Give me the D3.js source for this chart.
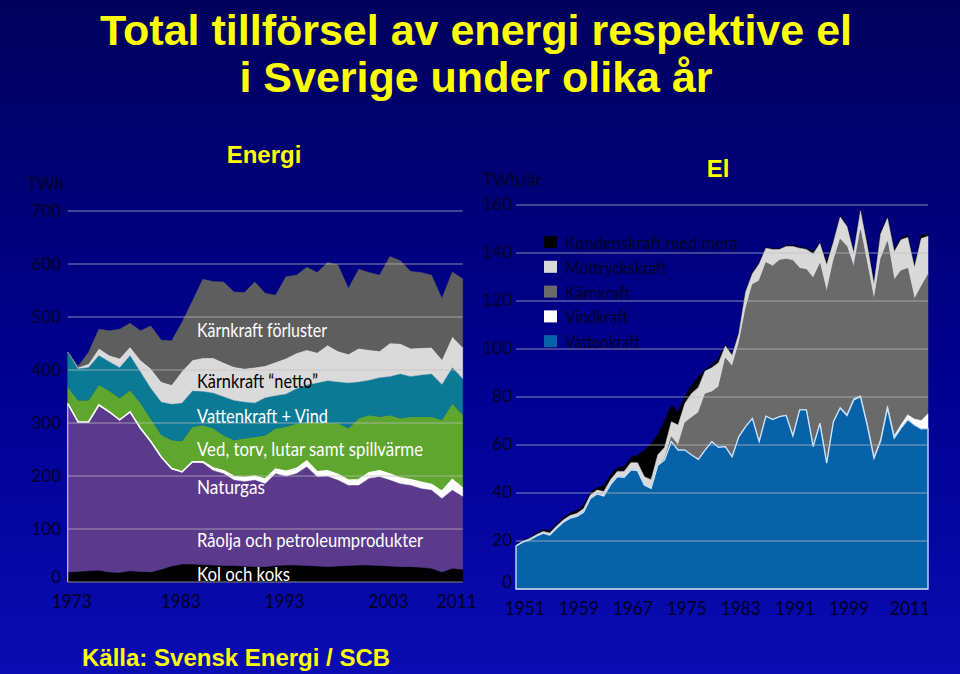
<!DOCTYPE html>
<html><head><meta charset="utf-8">
<script src="https://cdn.jsdelivr.net/npm/d3@7"></script>
<style>
html,body{margin:0;padding:0;background:#00007a;}
svg{display:block;}
</style></head><body>
<svg id="c" width="960" height="674"></svg>
<script>
// ---------------- DATA: Energi (TWh), 1973-2011 ----------------
const energiYears = [1973,1974,1975,1976,1977,1978,1979,1980,1981,1982,1983,1984,1985,1986,1987,1988,1989,1990,1991,1992,1993,1994,1995,1996,1997,1998,1999,2000,2001,2002,2003,2004,2005,2006,2007,2008,2009,2010,2011];
const kolKoks   = [19,20,21,22,19,18,21,20,19,24,30,34,34,33,32,31,31,30,29,29,31,32,32,31,30,29,30,31,32,32,31,30,29,29,28,26,19,26,24];
const raolja    = [318,282,281,312,302,288,300,270,246,212,184,174,192,192,179,174,162,160,164,157,174,168,173,187,169,171,163,152,151,164,168,163,157,154,149,148,139,148,138];
const naturgas  = [0,0,0,0,0,0,0,0,0,0,0,0,1,2,4,5,6,7,7,8,8,9,9,10,9,10,10,9,10,10,11,11,10,10,11,10,13,19,15];
const vedTorv   = [31,41,41,38,40,41,41,48,43,42,54,58,66,69,75,67,69,74,74,83,77,84,85,74,94,90,97,98,116,109,102,111,113,119,124,128,135,144,139];
const vattenVind= [66,60,62,56,55,58,66,59,58,62,68,72,68,64,67,73,75,69,64,71,62,62,66,70,74,80,78,86,69,66,74,73,84,76,79,81,67,68,68];
const karnNetto = [0,2,7,13,12,17,16,22,37,38,36,60,58,63,66,64,63,63,67,60,63,67,67,66,57,67,58,54,63,57,50,63,57,53,51,50,47,58,59];
const karnForl  = [0,2,21,36,46,55,44,55,80,78,83,92,111,148,144,152,141,143,161,137,126,154,147,156,151,156,162,124,149,146,143,163,156,145,142,136,115,122,129];
const energiTicks = [0,100,200,300,400,500,600,700];
const energiXLabels = [1973,1983,1993,2003,2011];

// ---------------- DATA: El (TWh/år), 1950-2011 ----------------
const elYears = [1950,1951,1952,1953,1954,1955,1956,1957,1958,1959,1960,1961,1962,1963,1964,1965,1966,1967,1968,1969,1970,1971,1972,1973,1974,1975,1976,1977,1978,1979,1980,1981,1982,1983,1984,1985,1986,1987,1988,1989,1990,1991,1992,1993,1994,1995,1996,1997,1998,1999,2000,2001,2002,2003,2004,2005,2006,2007,2008,2009,2010,2011];
const vattenkraft = [17.9,19.5,20.5,22.0,23.3,22.5,25.3,27.8,29.5,30.3,32.0,37.7,39.6,38.8,43.5,46.8,46.5,49.6,49.3,43.3,41.9,51.6,53.8,61.4,57.9,57.9,55.8,54.0,57.9,61.4,59.0,59.3,55.1,63.5,67.7,71.1,61.4,72.0,70.6,71.8,72.3,63.8,74.6,74.6,59.3,69.0,52.4,69.7,75.4,72.3,78.8,80.1,68.3,54.5,61.7,75.4,62.9,67.0,70.6,68.3,66.7,66.9];
const vindkraft   = [0,0,0,0,0,0,0,0,0,0,0,0,0,0,0,0,0,0,0,0,0,0,0,0,0,0,0,0,0,0,0,0,0,0,0,0,0,0,0,0,0,0,0,0,0.1,0.1,0.1,0.2,0.3,0.4,0.5,0.5,0.6,0.6,0.9,0.9,1.0,1.4,2.0,2.5,3.5,6.1];
const karnkraft   = [0,0,0,0,0,0,0,0,0,0,0,0,0,0,0,0,0,0,0,0,0,0,0.5,2.0,2.0,11.4,15.7,19.5,23.4,20.8,25.3,36.9,37.7,39.0,49.0,55.8,67.0,64.0,64.0,65.2,65.2,73.1,59.0,58.5,70.2,66.5,71.4,66.9,70.0,70.0,55.0,69.0,66.5,65.5,75.0,68.5,65.0,64.2,61.0,50.0,55.8,58.0];
const mottryck    = [0.3,0.4,0.5,0.6,0.7,0.8,0.9,1.0,1.1,1.2,1.4,1.5,1.6,1.8,2.0,2.2,2.5,3.0,3.3,3.5,3.6,4.3,4.7,6.3,8.4,8.0,10.0,10.5,9.5,10.0,10.0,5.0,4.5,4.0,7.0,4.5,7.0,6.0,6.9,4.5,5.2,5.8,8.4,8.4,10.0,8.4,11.1,7.7,9.3,8.3,5.7,7.9,7.6,6.4,10.4,9.7,11.6,12.9,12.9,13.2,20.0,16.0];
const kondens     = [0.2,0.3,0.4,0.6,0.8,1.0,0.8,1.0,1.0,1.2,1.5,1.0,1.0,2.5,2.0,1.5,2.0,2.2,3.0,11.0,15.0,8.5,11.0,7.0,5.5,3.0,3.5,4.5,0.5,1.0,2.0,0.5,0.5,0.5,0.5,0.5,0.5,0.4,0.4,0.4,0.4,0.5,0.5,0.5,1.0,0.5,2.0,0.5,0.4,0.4,0.3,0.5,0.8,1.5,0.8,0.5,1.0,0.8,0.8,1.0,1.5,1.0];
const elTicks = [0,20,40,60,80,100,120,140,160];
const elXLabels = [1951,1959,1967,1975,1983,1991,1999,2011];
const elLegend = ["Kondenskraft med mera","Mottryckskraft","Kärnkraft","Vindkraft","Vattenkraft"];

// ---------------- DRAW ----------------
const svg = d3.select('#c');
const defs = svg.append('defs');
const g0 = defs.append('linearGradient').attr('id','bg').attr('x1',0).attr('y1',0).attr('x2',0).attr('y2',1);
g0.append('stop').attr('offset','0%').attr('stop-color','#00005c');
g0.append('stop').attr('offset','55%').attr('stop-color','#000090');
g0.append('stop').attr('offset','100%').attr('stop-color','#0a0cb2');
svg.append('rect').attr('width',960).attr('height',674).attr('fill','url(#bg)');

const tickColor = '#020226';
const labelFont = 'Lato, "Open Sans", sans-serif';
const boldFont = '"Liberation Sans", Arial, sans-serif';

// Titles
svg.append('text').attr('x',476).attr('y',45).attr('text-anchor','middle')
  .attr('font-family',boldFont).attr('font-weight','bold').attr('font-size',43).attr('fill','#ffff00')
  .text('Total tillförsel av energi respektive el');
svg.append('text').attr('x',476).attr('y',92).attr('text-anchor','middle')
  .attr('font-family',boldFont).attr('font-weight','bold').attr('font-size',43).attr('fill','#ffff00')
  .text('i Sverige under olika år');
svg.append('text').attr('x',264).attr('y',163).attr('text-anchor','middle')
  .attr('font-family',boldFont).attr('font-weight','bold').attr('font-size',24).attr('fill','#ffff00')
  .text('Energi');
svg.append('text').attr('x',718).attr('y',177).attr('text-anchor','middle')
  .attr('font-family',boldFont).attr('font-weight','bold').attr('font-size',24).attr('fill','#ffff00')
  .text('El');
svg.append('text').attr('x',82).attr('y',666)
  .attr('font-family',boldFont).attr('font-weight','bold').attr('font-size',24).attr('fill','#ffff00')
  .text('Källa: Svensk Energi / SCB');

// ---------- Left: Energi ----------
const xL = d3.scaleLinear().domain([1973,2011]).range([67.7,462.7]);
const yL = d3.scaleLinear().domain([0,700]).range([582,211]);
const keysL = ['kol','olja','gas','bio','vatten','netto','forlust'];
const colL = {kol:'#000000', olja:'#5b3a8b', gas:'#ffffff', bio:'#5ea62e', vatten:'#0b7b95', netto:'#dadada', forlust:'#5e5e5e'};
const rowsL = energiYears.map((y,i)=>({year:y, kol:kolKoks[i], olja:raolja[i], gas:naturgas[i], bio:vedTorv[i], vatten:vattenVind[i], netto:karnNetto[i], forlust:karnForl[i]}));
const stL = d3.stack().keys(keysL)(rowsL);
const areaL = d3.area().x(d=>xL(d.data.year)).y0(d=>yL(d[0])).y1(d=>yL(d[1]));
const gL = svg.append('g');
gL.selectAll('path.layer').data(stL).join('path').attr('class','layer')
  .attr('d',areaL).attr('fill',d=>colL[d.key]).attr('stroke',d=>colL[d.key]).attr('stroke-width',0.5);
const gasLayer = stL.find(s=>s.key==='gas');
gL.append('path').datum(gasLayer)
  .attr('d',d3.line().x(d=>xL(d.data.year)).y(d=>yL(d[1])))
  .attr('fill','none').attr('stroke','#ffffff').attr('stroke-width',1.6);
gL.append('path').datum([[energiYears[0],0],[energiYears[0],kolKoks[0]+raolja[0]]])
  .attr('d',d3.line().x(d=>xL(d[0])).y(d=>yL(d[1])))
  .attr('stroke','#c8c8d8').attr('stroke-width',1.2).attr('fill','none');
gL.selectAll('line.grid').data(energiTicks).join('line').attr('class','grid')
  .attr('x1',xL(1973)).attr('x2',xL(2011)).attr('y1',d=>yL(d)).attr('y2',d=>yL(d))
  .attr('stroke','#c0c0c0').attr('stroke-opacity',0.7).attr('stroke-width',1);
gL.selectAll('text.yt').data(energiTicks).join('text').attr('class','yt')
  .attr('x',61).attr('y',d=> d===0 ? yL(d)+1 : yL(d)+6).attr('text-anchor','end')
  .attr('font-family',labelFont).attr('font-size',17).attr('fill',tickColor).text(d=>d);
gL.append('text').attr('x',27).attr('y',190).attr('font-family',labelFont).attr('font-size',17).attr('fill',tickColor).text('TWh');
const nLx = energiXLabels.length;
gL.selectAll('text.xt').data(energiXLabels).join('text').attr('class','xt')
  .attr('x',(d,i)=> i===0 ? xL(d)+4 : (i===nLx-1 ? xL(d)+14 : xL(d)+9))
  .attr('y',608)
  .attr('text-anchor',(d,i)=> i===nLx-1 ? 'end' : 'middle')
  .attr('font-family',labelFont).attr('font-size',20).attr('fill',tickColor)
  .attr('textLength',40).attr('lengthAdjust','spacingAndGlyphs')
  .text(d=>d);
const seriesLabels = [
  {t:'Kärnkraft förluster', x:197, y:337, w:130, c:'#ffffff'},
  {t:'Kärnkraft \u201Cnetto\u201D', x:197, y:388, w:121, c:'#000000'},
  {t:'Vattenkraft + Vind', x:197, y:423, w:131, c:'#ffffff'},
  {t:'Ved, torv, lutar samt spillvärme', x:197, y:456, w:226, c:'#ffffff'},
  {t:'Naturgas', x:197, y:494, w:68, c:'#ffffff'},
  {t:'Råolja och petroleumprodukter', x:197, y:547, w:226, c:'#ffffff'},
  {t:'Kol och koks', x:197, y:581, w:93, c:'#ffffff'}
];
gL.selectAll('text.sl').data(seriesLabels).join('text').attr('class','sl')
  .attr('x',d=>d.x).attr('y',d=>d.y).attr('fill',d=>d.c)
  .attr('font-family',labelFont).attr('font-size',19)
  .attr('textLength',d=>d.w).attr('lengthAdjust','spacingAndGlyphs')
  .text(d=>d.t);

// ---------- Right: El ----------
const xR = d3.scaleLinear().domain([1950,2011]).range([516,928]);
const yR = d3.scaleLinear().domain([0,160]).range([589,205]);
const keysR = ['vatten','vind','karn','mott','kond'];
const colR = {vatten:'#0862a8', vind:'#ffffff', karn:'#6a6a6a', mott:'#d9d9d9', kond:'#000000'};
const rowsR = elYears.map((y,i)=>({year:y, vatten:vattenkraft[i], vind:vindkraft[i], karn:karnkraft[i], mott:mottryck[i], kond:kondens[i]}));
const stR = d3.stack().keys(keysR)(rowsR);
const areaR = d3.area().x(d=>xR(d.data.year)).y0(d=>yR(d[0])).y1(d=>yR(d[1]));
const gR = svg.append('g');
gR.selectAll('path.layer').data(stR.slice().reverse()).join('path').attr('class','layer')
  .attr('d',areaR).attr('fill',d=>colR[d.key]).attr('stroke',d=>colR[d.key]).attr('stroke-width',0.5);
gR.append('path').datum(stR[0]).attr('d',areaR)
  .attr('fill','none').attr('stroke','#cfe4ff').attr('stroke-width',1.3);
gR.selectAll('line.grid').data(elTicks).join('line').attr('class','grid')
  .attr('x1',xR(1950)).attr('x2',xR(2011)).attr('y1',d=>yR(d)).attr('y2',d=>yR(d))
  .attr('stroke','#c0c0c0').attr('stroke-opacity',0.7).attr('stroke-width',1);
gR.selectAll('text.yt').data(elTicks).join('text').attr('class','yt')
  .attr('x',512).attr('y',d=> d===0 ? yR(d)-1 : yR(d)+5).attr('text-anchor','end')
  .attr('font-family',labelFont).attr('font-size',17).attr('fill',tickColor).text(d=>d);
gR.append('text').attr('x',483).attr('y',186).attr('font-family',labelFont).attr('font-size',17).attr('fill',tickColor).text('TWh/år');
const nRx = elXLabels.length;
gR.selectAll('text.xt').data(elXLabels).join('text').attr('class','xt')
  .attr('x',(d,i)=> i===nRx-1 ? xR(2011)+2 : xR(d)+2)
  .attr('y',615)
  .attr('text-anchor',(d,i)=> i===nRx-1 ? 'end' : 'middle')
  .attr('font-family',labelFont).attr('font-size',20).attr('fill',tickColor)
  .attr('textLength',40).attr('lengthAdjust','spacingAndGlyphs')
  .text(d=>d);
const legKeys = ['kond','mott','karn','vind','vatten'];
const legW = [173,102,65,63,75];
const leg = gR.append('g');
legKeys.forEach((k,i)=>{
  const by = 249 + i*24.8;
  leg.append('rect').attr('x',544).attr('y',by-13).attr('width',13).attr('height',12).attr('fill',colR[k]);
  leg.append('text').attr('x',565).attr('y',by).attr('font-family',labelFont).attr('font-size',17)
    .attr('fill',tickColor).attr('textLength',legW[i]).attr('lengthAdjust','spacingAndGlyphs').text(elLegend[i]);
});
</script>
</body></html>
